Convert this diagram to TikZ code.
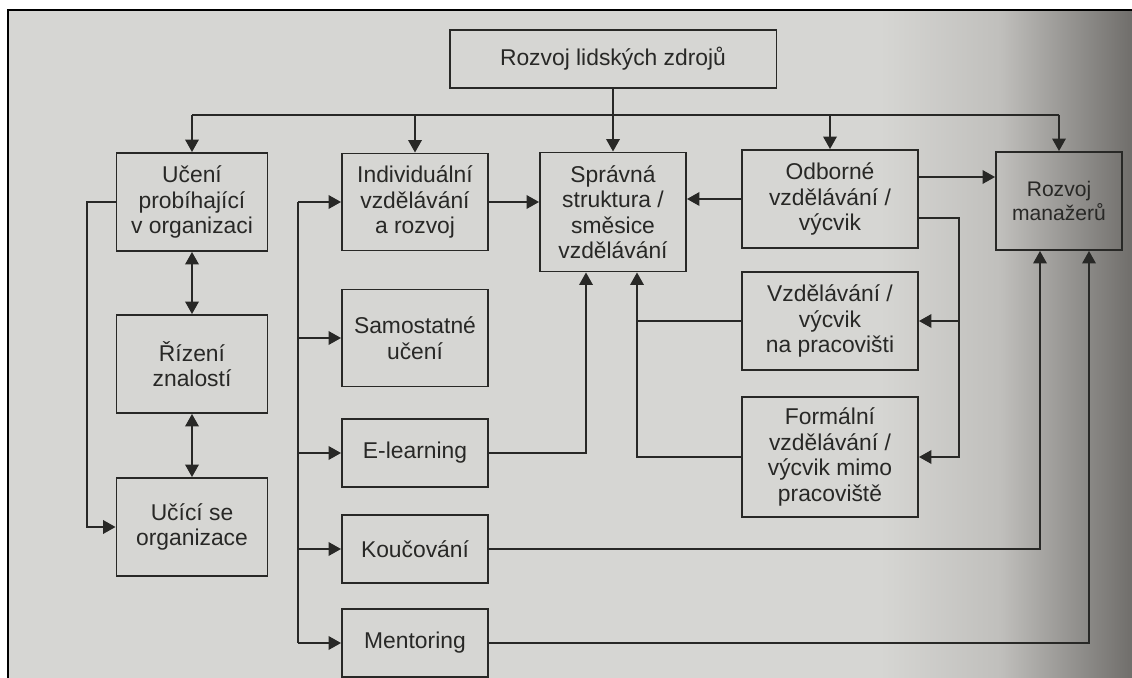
\documentclass[tikz,border=0pt]{standalone}
\usepackage{fontspec}
\setmainfont{Liberation Sans}
\usepackage{tikz}
\usetikzlibrary{arrows.meta}
\definecolor{paper}{RGB}{214,214,211}
\definecolor{papermid}{RGB}{192,191,188}
\definecolor{paperdark}{RGB}{112,110,107}
\definecolor{ink}{RGB}{40,40,38}

\begin{document}
\begin{tikzpicture}[x=0.02cm, y=-0.02cm,
    box/.style={draw=ink, line width=1.1pt, align=center, inner sep=0pt, text=ink,
      font=\fontsize{13}{14.5}\selectfont},
    lcol/.style={box, minimum width=3.02cm, minimum height=1.96cm},
    mcol/.style={box, minimum width=2.92cm, minimum height=1.94cm},
    rcol/.style={box, minimum width=3.52cm, minimum height=1.96cm},
    short/.style={minimum height=1.36cm},
    line/.style={draw=ink, line width=1.1pt},
    arr/.style={line, -{Triangle[length=2.5mm, width=2.7mm]}},
    arr2/.style={line, {Triangle[length=2.5mm, width=2.7mm]}-{Triangle[length=2.5mm, width=2.7mm]}}]
    \useasboundingbox (0,0) rectangle (1132,678);
    \fill[white] (0,0) rectangle (1132,678);
    \fill[paper] (8,10) rectangle (1132,678);
    \shade[left color=paper, right color=papermid] (880,10) rectangle (1001,678);
    \shade[left color=papermid, right color=paperdark] (1000,10) rectangle (1132,678);
    \draw[black, line width=1.3pt] (8,678) -- (8,10) -- (1132,10);

    \node[box, minimum width=6.54cm, minimum height=1.16cm] (rlz) at (613,59) {Rozvoj lidských zdrojů};
    \node[lcol] (uceni) at (192,202) {Učení\\probíhající\\v organizaci};
    \node[lcol] (rizeni) at (192,364) {Řízení\\znalostí};
    \node[lcol] (ucici) at (192,527) {Učící se\\organizace};
    \node[mcol] (indiv) at (415,202) {Individuální\\vzdělávání\\a rozvoj};
    \node[mcol] (samost) at (415,338) {Samostatné\\učení};
    \node[mcol, short] (elearn) at (415,453) {E-learning};
    \node[mcol, short] (kouc) at (415,549) {Koučování};
    \node[mcol, short] (mentor) at (415,643) {Mentoring};
    \node[mcol, minimum height=2.38cm] (sprav) at (613,212) {Správná\\struktura /\\směsice\\vzdělávání};
    \node[rcol] (odbor) at (830,199) {Odborné\\vzdělávání /\\výcvik};
    \node[rcol] (vzdprac) at (830,321) {Vzdělávání /\\výcvik\\na pracovišti};
    \node[rcol, minimum height=2.4cm] (formal) at (830,457) {Formální\\vzdělávání /\\výcvik mimo\\pracoviště};
    \node[box, minimum width=2.52cm, minimum height=1.96cm, font=\fontsize{12}{14}\selectfont] (rozman) at (1059,201) {Rozvoj\\manažerů};

    \coordinate (hbus) at (0,115);
    \coordinate (ubus) at (87,0);
    \coordinate (lbus) at (298,0);
    \coordinate (ebus) at (586,0);
    \coordinate (cbus) at (637,0);
    \coordinate (rbus) at (959,0);
    \coordinate (kbus) at (1040,0);
    \coordinate (mbus) at (1089,0);

    \draw[line] (hbus -| uceni) -- (hbus -| rozman);
    \foreach \n in {uceni,indiv,odbor,rozman}
      \draw[arr] (hbus -| \n) -- (\n.north);
    \draw[arr] (rlz) -- (sprav);
    \draw[arr2] (uceni) -- (rizeni);
    \draw[arr2] (rizeni) -- (ucici);
    \draw[arr] (uceni.west) -- (uceni.west -| ubus) |- (ucici.west);
    \draw[line] (indiv.west -| lbus) -- (mentor.west -| lbus);
    \foreach \n in {indiv,samost,elearn,kouc,mentor}
      \draw[arr] (\n.west -| lbus) -- (\n.west);
    \draw[arr] (indiv.east) -- (indiv.east -| sprav.west);
    \draw[arr] (odbor.west) -- (odbor.west -| sprav.east);
    \draw[arr] ([yshift=0.44cm]odbor.east) -- ([yshift=0.44cm]odbor.east -| rozman.west);
    \draw[arr] ([yshift=-0.38cm]odbor.east) -| (rbus |- formal.east) -- (formal.east);
    \draw[arr] (rbus |- vzdprac.east) -- (vzdprac.east);
    \draw[arr] (formal.west) -| (cbus |- sprav.south);
    \draw[line] (vzdprac.west) -- (vzdprac.west -| cbus);
    \draw[arr] (elearn.east) -| (ebus |- sprav.south);
    \draw[arr] (kouc.east) -| (kbus |- rozman.south);
    \draw[arr] (mentor.east) -| (mbus |- rozman.south);
  \end{tikzpicture}
\end{document}
